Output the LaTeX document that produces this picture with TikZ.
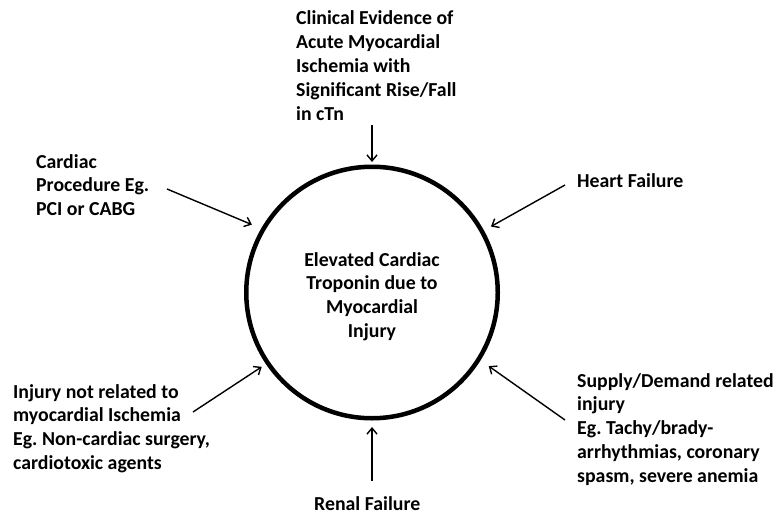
\documentclass[tikz,border=0pt]{standalone}
\usepackage{fontspec}
\setmainfont{Carlito}
\frenchspacing
\usetikzlibrary{arrows.meta}
\begin{document}
\begin{tikzpicture}[x=1pt,y=-1pt,
  lbl/.style={inner sep=0pt,anchor=base west,font=\fontsize{19.8}{23.8}\selectfont\bfseries},
  arr/.style={line width=1.4pt,-{Straight Barb[length=6pt,width=10pt,line width=1.4pt]}},
  ring/.style={circle,draw,line width=4.5pt,minimum size=251.5pt,inner sep=0pt,outer sep=2.25pt}]
\useasboundingbox (0,0) rectangle (783,516);
\node[ring] (c) at (372,292.5) {};
\node[lbl,anchor=base,align=center] (ctr) at (372,266)
  {\begin{tabular}[t]{@{}c@{}}Elevated Cardiac\\Troponin due to\\Myocardial\\Injury\end{tabular}};
\node[lbl] (top) at (296,25)
  {\begin{tabular}[t]{@{}l@{}}Clinical Evidence of\\Acute Myocardial\\Ischemia with\\Significant Rise/Fall\\in cTn\end{tabular}};
\node[lbl] (proc) at (36,168)
  {\begin{tabular}[t]{@{}l@{}}Cardiac\\Procedure Eg.\\PCI or CABG\end{tabular}};
\node[lbl] (hf) at (577,187) {Heart Failure};
\node[lbl] (inj) at (13,398)
  {\begin{tabular}[t]{@{}l@{}}Injury not related to\\myocardial Ischemia\\Eg. Non-cardiac surgery,\\cardiotoxic agents\end{tabular}};
\node[lbl] (sup) at (577,387)
  {\begin{tabular}[t]{@{}l@{}}Supply/Demand related\\injury\\Eg. Tachy/brady-\\arrhythmias, coronary\\spasm, severe anemia\end{tabular}};
\node[lbl] (rf) at (314,510) {Renal Failure};
\coordinate (s1) at (372,125);
\coordinate (s2) at (167,189);
\coordinate (s3) at (565,185);
\coordinate (s4) at (193,412);
\coordinate (s5) at (565,420);
\coordinate (s6) at (372,481);
\draw[arr,shorten >=2.5pt] (s1) -- (c.90);
\draw[arr,shorten >=10pt] (s2) -- (c.150.6);
\draw[arr,shorten >=8pt] (s3) -- (c.29.8);
\draw[arr,shorten >=5pt] (s4) -- (c.214.5);
\draw[arr,shorten >=10pt] (s5) -- (c.-32.7);
\draw[arr,shorten >=6.5pt] (s6) -- (c.270);
\end{tikzpicture}
\end{document}
